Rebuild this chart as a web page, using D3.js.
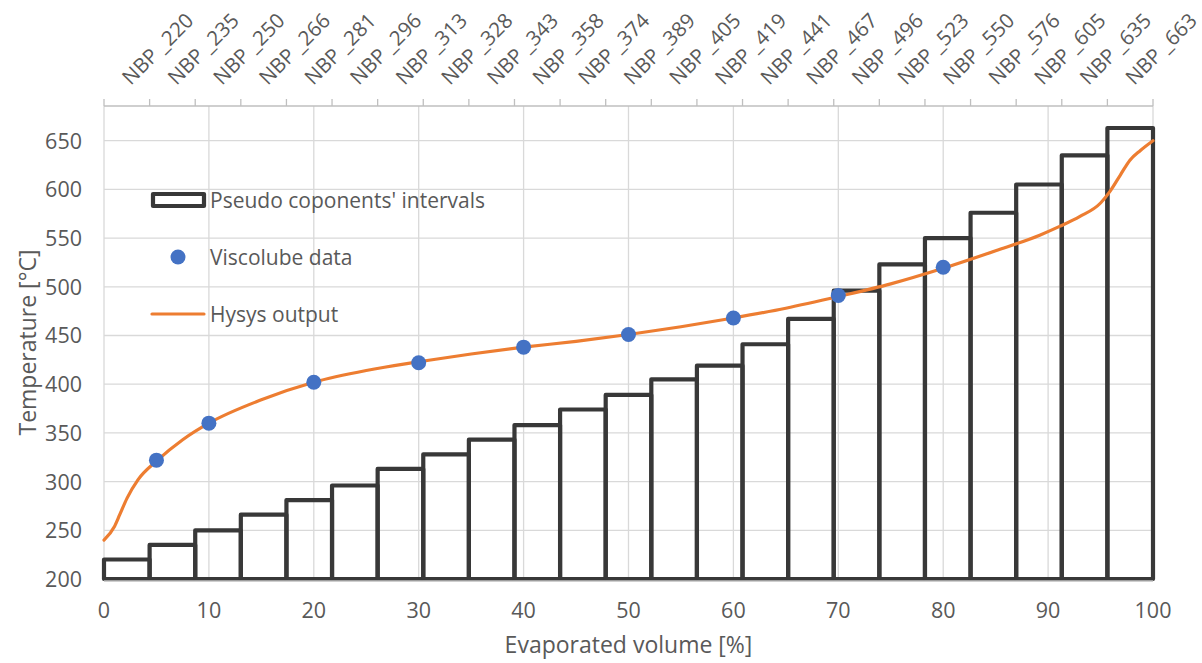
<!DOCTYPE html>
<html>
<head>
<meta charset="utf-8">
<script src="https://cdn.jsdelivr.net/npm/d3@7"></script>
<style>
  html, body { margin: 0; padding: 0; background: #fff; }
  svg { display: block; font-family: "Open Sans", sans-serif; }
  text { fill: #595959; }
</style>
</head>
<body>
<svg width="1202" height="663"></svg>
<script>
// pseudo component boiling points (top category axis + column heights)
const components = [220, 235, 250, 266, 281, 296, 313, 328, 343, 358, 374, 389,
  405, 419, 441, 467, 496, 523, 550, 576, 605, 635, 663];
const componentLabels = components.map(d => "NBP _" + d);

// Viscolube data points
const viscoX = [5, 10, 20, 30, 40, 50, 60, 70, 80];
const viscoY = [322, 360, 402, 422, 438, 451, 468, 491, 520];

// Hysys output curve
const hysysX = [0, 1, 1.5, 2.2, 3.25, 5, 7.5, 10, 15, 20, 25, 30, 35, 40, 45, 50, 55, 60,
  65, 70, 75, 80, 85, 89.2, 91.1, 93, 95, 95.9, 96.9, 97.8, 98.8, 100];
const hysysY = [240, 254, 266, 283, 302, 321, 343, 360, 384, 402, 414, 423, 431,
  438, 444, 451, 459, 468, 478, 490, 503, 519, 537, 553, 562, 572, 586, 598, 615, 630, 640, 650];

const xTicks = [0, 10, 20, 30, 40, 50, 60, 70, 80, 90, 100];
const yTicks = [200, 250, 300, 350, 400, 450, 500, 550, 600, 650];

const svg = d3.select("svg");
const margin = { left: 104, right: 49, top: 106, bottom: 84 };
const width = 1202, height = 663;

const x = d3.scaleLinear().domain([0, 100]).range([margin.left, width - margin.right]);
const y = d3.scaleLinear().domain([200, 685.6]).range([height - margin.bottom, margin.top]);
const band = d3.scaleBand().domain(componentLabels).range([margin.left, width - margin.right]).padding(0);

const grid = svg.append("g").attr("class", "grid");
grid.selectAll("line.h")
  .data(yTicks)
  .enter()
  .append("line")
  .attr("x1", x(0)).attr("x2", x(100))
  .attr("y1", d => y(d)).attr("y2", d => y(d))
  .attr("stroke", "#d9d9d9").attr("stroke-width", 1.3);
grid.selectAll("line.v")
  .data(xTicks)
  .enter()
  .append("line")
  .attr("x1", d => x(d)).attr("x2", d => x(d))
  .attr("y1", y.range()[1]).attr("y2", y.range()[0])
  .attr("stroke", "#d9d9d9").attr("stroke-width", 1.3);

// top category axis
const topAxis = svg.append("g").attr("transform", `translate(0,${margin.top})`);
topAxis.append("line")
  .attr("x1", x(0)).attr("x2", x(100))
  .attr("stroke", "#bfbfbf").attr("stroke-width", 1.3);
topAxis.selectAll("line.tick")
  .data(d3.range(components.length + 1))
  .enter()
  .append("line")
  .attr("x1", i => margin.left + i * band.bandwidth())
  .attr("x2", i => margin.left + i * band.bandwidth())
  .attr("y1", 0).attr("y2", -7)
  .attr("stroke", "#bfbfbf").attr("stroke-width", 1.3);
topAxis.selectAll("text")
  .data(componentLabels)
  .enter()
  .append("text")
  .attr("transform", d => `translate(${band(d) + band.bandwidth() / 2 + 4},-20) rotate(-45)`)
  .attr("font-size", 20.5)
  .text(d => d);

// columns
svg.append("g")
  .attr("class", "bars")
  .selectAll("rect")
  .data(components)
  .enter()
  .append("rect")
  .attr("x", (d, i) => band(componentLabels[i]))
  .attr("width", band.bandwidth())
  .attr("y", d => y(d))
  .attr("height", d => y(200) - y(d))
  .attr("fill", "none")
  .attr("stroke", "#383838")
  .attr("stroke-width", 4.2)
  .attr("stroke-linejoin", "round");

// bottom axis line
svg.append("line")
  .attr("x1", x(0)).attr("x2", x(100))
  .attr("y1", y(200) + 2).attr("y2", y(200) + 2)
  .attr("stroke", "#bfbfbf").attr("stroke-width", 1.3);

// Hysys line
const line = d3.line()
  .x((d, i) => x(hysysX[i]))
  .y(d => y(d))
  .curve(d3.curveMonotoneX);
svg.append("path")
  .datum(hysysY)
  .attr("d", line)
  .attr("fill", "none")
  .attr("stroke", "#ed7d31")
  .attr("stroke-width", 3.2)
  .attr("stroke-linecap", "round");

// Viscolube points
svg.append("g")
  .selectAll("circle")
  .data(viscoY)
  .enter()
  .append("circle")
  .attr("cx", (d, i) => x(viscoX[i]))
  .attr("cy", d => y(d))
  .attr("r", 7.5)
  .attr("fill", "#4472c4");

// axis tick labels
svg.append("g")
  .selectAll("text")
  .data(yTicks)
  .enter()
  .append("text")
  .attr("x", 82)
  .attr("y", d => y(d) + 8)
  .attr("text-anchor", "end")
  .attr("font-size", 21.5)
  .text(d => d);
svg.append("g")
  .selectAll("text")
  .data(xTicks)
  .enter()
  .append("text")
  .attr("x", d => x(d))
  .attr("y", 618)
  .attr("text-anchor", "middle")
  .attr("font-size", 21.5)
  .text(d => d);

// axis titles
svg.append("text")
  .attr("x", x(50))
  .attr("y", 653)
  .attr("text-anchor", "middle")
  .attr("font-size", 23)
  .text("Evaporated volume [%]");
svg.append("text")
  .attr("transform", `translate(36,${(margin.top + y(200)) / 2}) rotate(-90)`)
  .attr("text-anchor", "middle")
  .attr("font-size", 23)
  .text("Temperature [°C]");

// legend
const legend = svg.append("g").attr("class", "legend");
legend.append("rect")
  .attr("x", 153).attr("y", 194)
  .attr("width", 51).attr("height", 12)
  .attr("fill", "#fff")
  .attr("stroke", "#383838").attr("stroke-width", 4.2)
  .attr("stroke-linejoin", "round");
legend.append("circle")
  .attr("cx", 178).attr("cy", 257).attr("r", 7.5)
  .attr("fill", "#4472c4");
legend.append("line")
  .attr("x1", 152).attr("x2", 204)
  .attr("y1", 314).attr("y2", 314)
  .attr("stroke", "#ed7d31").attr("stroke-width", 3.2)
  .attr("stroke-linecap", "round");
legend.selectAll("text")
  .data(["Pseudo coponents' intervals", "Viscolube data", "Hysys output"])
  .enter()
  .append("text")
  .attr("x", 210)
  .attr("y", (d, i) => 208 + i * 57)
  .attr("font-size", 21)
  .text(d => d);
</script>
</body>
</html>
